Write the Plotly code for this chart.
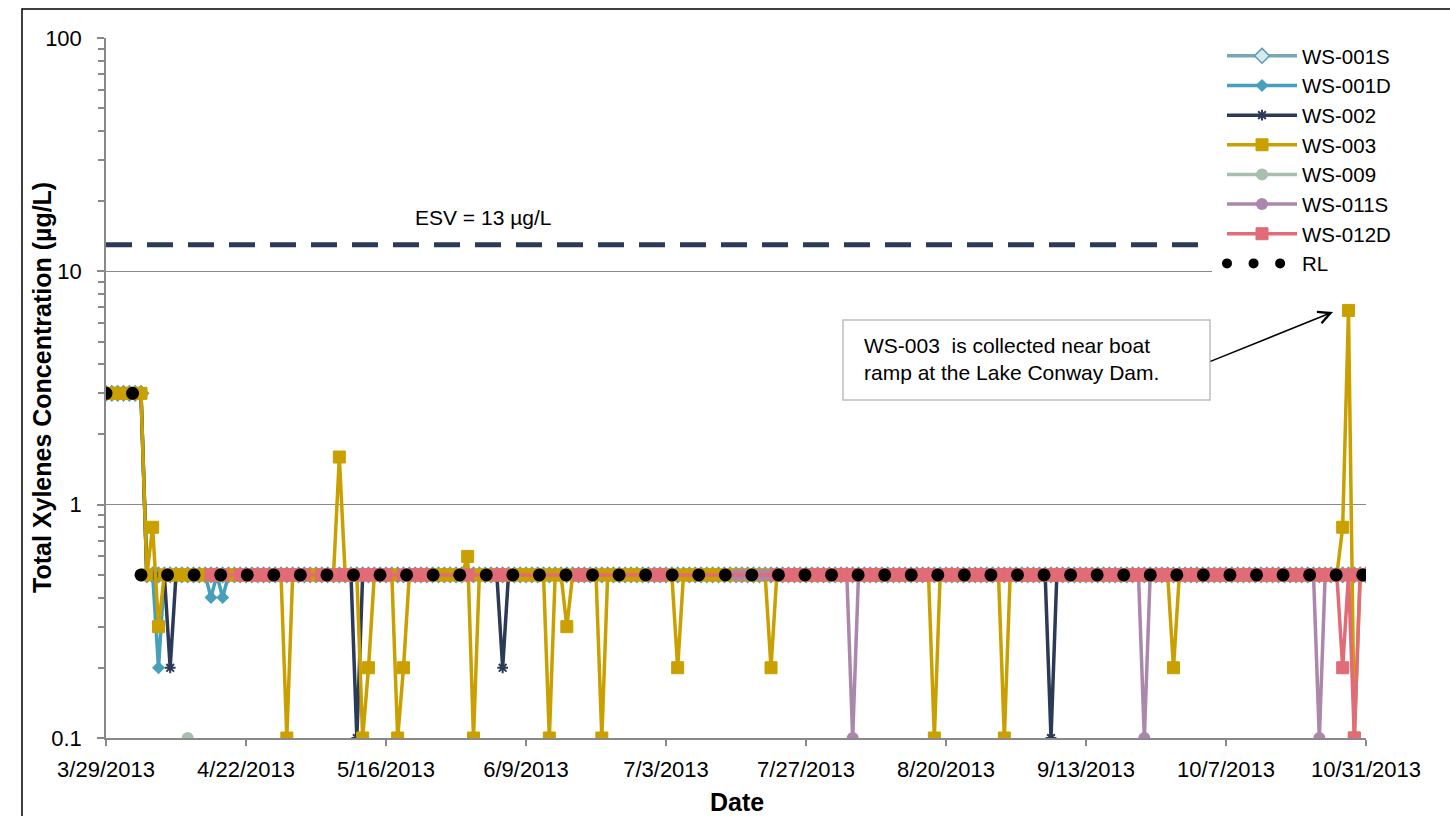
import pandas as pd
import plotly.graph_objects as go

# ---------------- data ----------------
ND_LEVEL = 0.5            # non-detect / reporting-limit level of the band
ESV_VALUE = 13
FIRST_WEEK = ["2013-03-29", "2013-03-30", "2013-03-31", "2013-04-01",
              "2013-04-02", "2013-04-03", "2013-04-04"]
FIRST_WEEK_VALUE = 3

X_START, X_END = "2013-03-29", "2013-10-31"
TICK_LABELS = ["3/29/2013", "4/22/2013", "5/16/2013", "6/9/2013", "7/3/2013",
               "7/27/2013", "8/20/2013", "9/13/2013", "10/7/2013", "10/31/2013"]
Y_TICKS = [0.1, 1, 10, 100]
Y_TICK_TEXT = ["0.1", "1", "10", "100"]

ws001s_windows = [("2013-03-29", "2013-10-31")]
ws001s_events = {}

ws001d_windows = [("2013-03-29", "2013-10-31")]
ws001d_events = {"2013-04-07": 0.2, "2013-04-16": 0.4, "2013-04-18": 0.4}

ws002_windows = [("2013-03-29", "2013-10-31")]
ws002_events = {"2013-04-09": 0.2, "2013-05-11": 0.1, "2013-06-05": 0.2,
                "2013-09-07": 0.1}

ws003_windows = [("2013-03-29", "2013-10-31")]
ws003_events = {"2013-04-06": 0.8, "2013-04-07": 0.3, "2013-04-29": 0.1,
                "2013-05-08": 1.6, "2013-05-12": 0.1, "2013-05-13": 0.2,
                "2013-05-18": 0.1, "2013-05-19": 0.2, "2013-05-30": 0.6,
                "2013-05-31": 0.1, "2013-06-13": 0.1, "2013-06-16": 0.3,
                "2013-06-22": 0.1, "2013-07-05": 0.2, "2013-07-21": 0.2,
                "2013-08-18": 0.1, "2013-08-30": 0.1, "2013-09-28": 0.2,
                "2013-10-27": 0.8, "2013-10-28": 6.8, "2013-10-29": 0.1}

ws009_dates = ["2013-04-12"]
ws009_values = [0.1]

ws011s_windows = [("2013-07-15", "2013-10-31")]
ws011s_events = {"2013-08-04": 0.1, "2013-09-23": 0.1, "2013-10-23": 0.1}

ws012d_windows = [("2013-04-16", "2013-04-18"), ("2013-04-21", "2013-05-02"),
                  ("2013-05-05", "2013-05-16"), ("2013-05-19", "2013-05-23"),
                  ("2013-05-30", "2013-05-30"), ("2013-06-04", "2013-06-05"),
                  ("2013-06-18", "2013-06-19"), ("2013-07-01", "2013-07-02"),
                  ("2013-07-22", "2013-10-31")]
ws012d_events = {"2013-10-27": 0.2, "2013-10-29": 0.1}

rl_segments = [(["2013-03-29", "2013-04-04"], [3, 3]),
               (["2013-04-04", "2013-10-31"], [0.5, 0.5])]


def build(windows, events, first_week):
    idx = pd.DatetimeIndex([])
    for a, b in windows:
        idx = idx.append(pd.date_range(a, b, freq="D"))
    s = pd.Series(ND_LEVEL, index=idx, dtype=float)
    if first_week:
        s.loc[pd.to_datetime(FIRST_WEEK)] = FIRST_WEEK_VALUE
    for d, v in events.items():
        s.loc[pd.Timestamp(d)] = v
    return s.sort_index()


FONT = "Arial, Liberation Sans, sans-serif"
GRID = "#898989"

fig = go.Figure()

# ESV line
fig.add_trace(go.Scatter(x=[X_START, X_END], y=[ESV_VALUE, ESV_VALUE], mode="lines",
                         line=dict(color="#2b3a56", width=5, dash="26px,15px"),
                         showlegend=False, hoverinfo="skip"))

specs = [
    ("WS-001S", build(ws001s_windows, ws001s_events, True), "#7aa6b4",
     dict(symbol="diamond", size=11.5, color="#d6e9ef", line=dict(color="#5c9db1", width=1.5))),
    ("WS-001D", build(ws001d_windows, ws001d_events, True), "#46a0bb",
     dict(symbol="diamond", size=10, color="#46a0bb", line=dict(width=0))),
    ("WS-002", build(ws002_windows, ws002_events, True), "#2b3a56",
     dict(symbol="asterisk-open", size=9, line=dict(color="#2b3a56", width=2))),
    ("WS-003", build(ws003_windows, ws003_events, True), "#c9a000",
     dict(symbol="square", size=12, color="#c9a000", line=dict(color="#c9a000", width=1))),
    ("WS-009", pd.Series(ws009_values, index=pd.to_datetime(ws009_dates)), "#a8bfae",
     dict(symbol="circle", size=12, color="#a8bfae", line=dict(width=0))),
    ("WS-011S", build(ws011s_windows, ws011s_events, False), "#ab87ab",
     dict(symbol="circle", size=12, color="#ab87ab", line=dict(width=0))),
    ("WS-012D", build(ws012d_windows, ws012d_events, False), "#e16b77",
     dict(symbol="square", size=12, color="#e16b77", line=dict(color="#e16b77", width=1))),
]
for name, s, col, mk in specs:
    fig.add_trace(go.Scatter(x=s.index, y=s.values, mode="lines+markers", name=name,
                             line=dict(color=col, width=3.5), marker=mk))

rl_x, rl_y = [], []
for i, (xs, ys) in enumerate(rl_segments):
    if i:
        rl_x.append(None)
        rl_y.append(None)
    rl_x += xs
    rl_y += ys
fig.add_trace(go.Scatter(x=rl_x, y=rl_y, mode="lines", name="RL",
                         line=dict(color="black", width=13, dash="0px,26.56px")))

W, H = 1450, 816
L, R, T, B = 106, 84, 38, 78
PW, PH = W - L - R, H - T - B


def px(x):
    return (x - L) / PW


def py(y):
    return (H - B - y) / PH


fig.update_layout(
    width=W, height=H, margin=dict(l=L, r=R, t=T, b=B, autoexpand=False),
    paper_bgcolor="white", plot_bgcolor="white",
    font=dict(family=FONT, size=22, color="black"),
    xaxis=dict(type="date", range=[X_START, X_END], tickmode="array",
               tickvals=pd.to_datetime(TICK_LABELS, format="%m/%d/%Y"), ticktext=TICK_LABELS,
               showgrid=False, showline=True, linecolor=GRID, linewidth=1.5,
               ticks="outside", ticklen=6, tickcolor=GRID, tickwidth=1.5,
               ticklabelstandoff=5, tickfont=dict(size=22), zeroline=False),
    yaxis=dict(type="log", range=[-1, 2], tickmode="array", tickvals=Y_TICKS,
               ticktext=Y_TICK_TEXT, showgrid=True, gridcolor=GRID, gridwidth=1.2,
               showline=True, linecolor=GRID, linewidth=1.5,
               ticks="outside", ticklen=7, tickcolor=GRID, tickwidth=1.5,
               ticklabelstandoff=11, tickfont=dict(size=22), zeroline=False,
               minor=dict(tickmode="array",
                          tickvals=[0.2, 0.3, 0.4, 0.5, 0.6, 0.7, 0.8, 0.9,
                                    2, 3, 4, 5, 6, 7, 8, 9, 20, 30, 40, 50, 60, 70, 80, 90],
                          ticks="outside", ticklen=6, tickcolor=GRID, tickwidth=1.5,
                          showgrid=False)),
    legend=dict(x=px(1222), y=py(36), xanchor="left", yanchor="top",
                bgcolor="rgba(0,0,0,0)", borderwidth=0, font=dict(size=20.5),
                itemwidth=70, tracegroupgap=0),
    showlegend=True,
)

# white legend area (hides the ESV line and the 10 gridline behind the legend)
fig.add_shape(type="rect", xref="paper", yref="paper",
              x0=px(1212), x1=px(1440), y0=py(276), y1=py(40),
              line=dict(width=0), fillcolor="white", layer="above")
# chart-area border
fig.add_shape(type="rect", xref="paper", yref="paper",
              x0=px(22), x1=px(1470), y0=py(840), y1=py(9),
              line=dict(color="black", width=1.5), fillcolor="rgba(0,0,0,0)", layer="above")
# callout box
fig.add_shape(type="rect", xref="paper", yref="paper",
              x0=px(843), x1=px(1210), y0=py(400), y1=py(320),
              line=dict(color="#bfbfbf", width=1.5), fillcolor="white", layer="above")

fig.add_annotation(xref="paper", yref="paper", x=px(862), y=py(358.5),
                   xanchor="left", yanchor="middle", align="left", showarrow=False,
                   text="WS-003 \u00a0is collected near boat<br>ramp at the Lake Conway Dam.",
                   font=dict(size=21))
fig.add_annotation(xref="paper", yref="paper", x=px(1333), y=py(312),
                   text="", showarrow=True, ax=-124, ay=50,
                   arrowhead=5, arrowsize=1.6, arrowwidth=1.5, arrowcolor="black")
fig.add_annotation(xref="paper", yref="paper", x=px(483), y=py(218),
                   xanchor="center", yanchor="middle", showarrow=False,
                   text="ESV = 13 µg/L", font=dict(size=21))
fig.add_annotation(xref="paper", yref="paper", x=px(42), y=0.5, textangle=-90,
                   xanchor="center", yanchor="middle", showarrow=False,
                   text="<b>Total Xylenes Concentration (µg/L)</b>", font=dict(size=25))
fig.add_annotation(xref="paper", yref="paper", x=px(737), y=py(802),
                   xanchor="center", yanchor="middle", showarrow=False,
                   text="<b>Date</b>", font=dict(size=25))

post = """
document.body.style.margin='0';
var gd = document.getElementById('{plot_id}');
function rc(){
  gd.querySelectorAll('path.js-line').forEach(function(p){
    p.style.strokeLinejoin='round';
    var da = p.style.strokeDasharray || '';
    if (da && parseFloat(da) === 0) { p.style.strokeLinecap='round'; }
  });
}
rc();
if (gd.on) { gd.on('plotly_afterplot', rc); }
setTimeout(rc, 300);
"""
fig.write_html("out.html", post_script=post, config={"displayModeBar": False})
